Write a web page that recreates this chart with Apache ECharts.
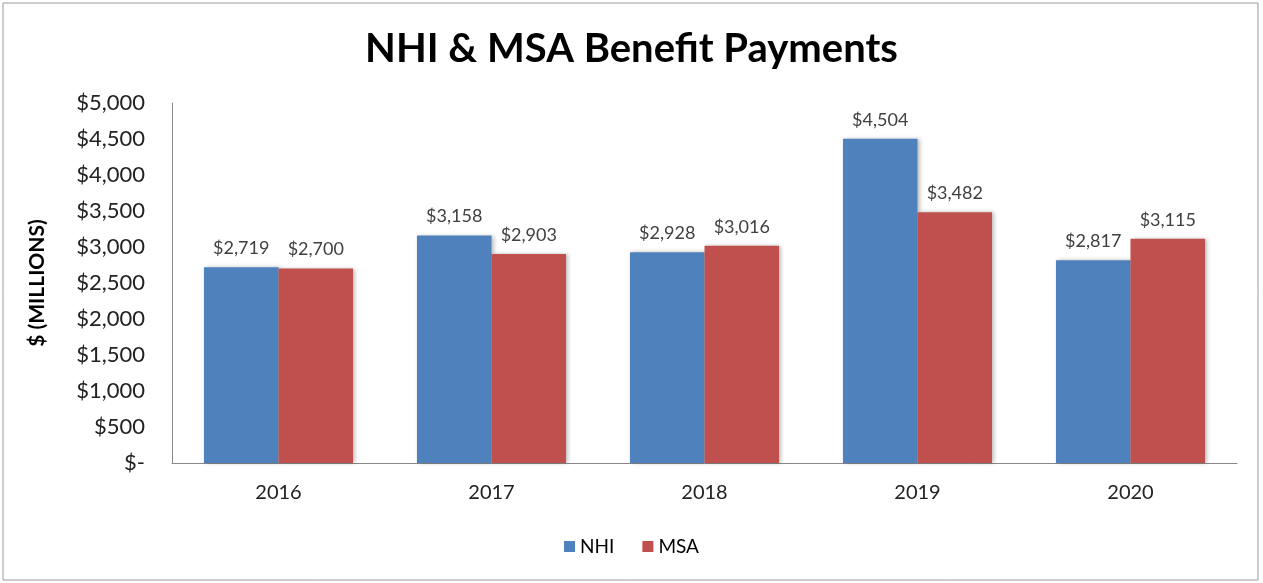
<!DOCTYPE html>
<html><head><meta charset="utf-8">
<script src="https://cdn.jsdelivr.net/npm/echarts@6/dist/echarts.min.js"></script>
<style>html,body{margin:0;padding:0;background:#fff;}#c{width:1263px;height:583px;}</style>
</head><body><div id="c"></div>
<script>
var categories = ['2016','2017','2018','2019','2020'];
var nhiValues = [2719, 3158, 2928, 4504, 2817];
var msaValues = [2700, 2903, 3016, 3482, 3115];
var seriesNames = ['NHI','MSA'];
var titleText = 'NHI & MSA Benefit Payments';
var yAxisName = '$ (MILLIONS)';

function money(v){ return v === 0 ? '$-' : '$' + v.toLocaleString('en-US'); }
var font = 'Lato, "Open Sans", sans-serif';
var chart = echarts.init(document.getElementById('c'));
var labelCfg = {show:true, position:'top', distance:10, color:'#404040', fontSize:18, fontFamily:font, formatter:function(p){return money(p.value);}};
chart.setOption({
  animation:false,
  graphic:[{type:'rect', shape:{x:3,y:3,width:1255,height:577}, style:{fill:'none', stroke:'#9a9a9a', lineWidth:1}, silent:true}],
  title:{text:titleText, left:'center', top:24, textStyle:{fontFamily:font, fontWeight:'bold', fontSize:40, color:'#000'}},
  legend:{data:seriesNames, bottom:22, left:'center', itemWidth:11, itemHeight:11, itemGap:28, icon:'rect', textStyle:{fontFamily:font, fontSize:19, color:'#000'}},
  grid:{left:172, right:26, top:103, bottom:120},
  xAxis:{type:'category', data:categories, axisLine:{lineStyle:{color:'#888'}}, axisTick:{show:false},
    axisLabel:{fontFamily:font, fontSize:20, color:'#222', margin:20}},
  yAxis:{type:'value', min:0, max:5000, interval:500, name:yAxisName, nameLocation:'middle', nameGap:124, nameRotate:90,
    nameTextStyle:{fontFamily:font, fontWeight:'bold', fontSize:21, color:'#000'},
    axisLine:{show:true, lineStyle:{color:'#888'}}, axisTick:{show:false}, splitLine:{show:false},
    axisLabel:{fontFamily:font, fontSize:22, color:'#222', margin:27, formatter:money}},
  series:[
    {name:seriesNames[0], type:'bar', data:nhiValues, barGap:'0%', barCategoryGap:'30%',
     itemStyle:{color:'#4F81BD', shadowColor:'rgba(0,0,0,0.25)', shadowBlur:4, shadowOffsetX:2, shadowOffsetY:0}, label:labelCfg},
    {name:seriesNames[1], type:'bar', data:msaValues,
     itemStyle:{color:'#C0504D', shadowColor:'rgba(0,0,0,0.25)', shadowBlur:4, shadowOffsetX:2, shadowOffsetY:0}, label:labelCfg}
  ]
});
</script></body></html>
